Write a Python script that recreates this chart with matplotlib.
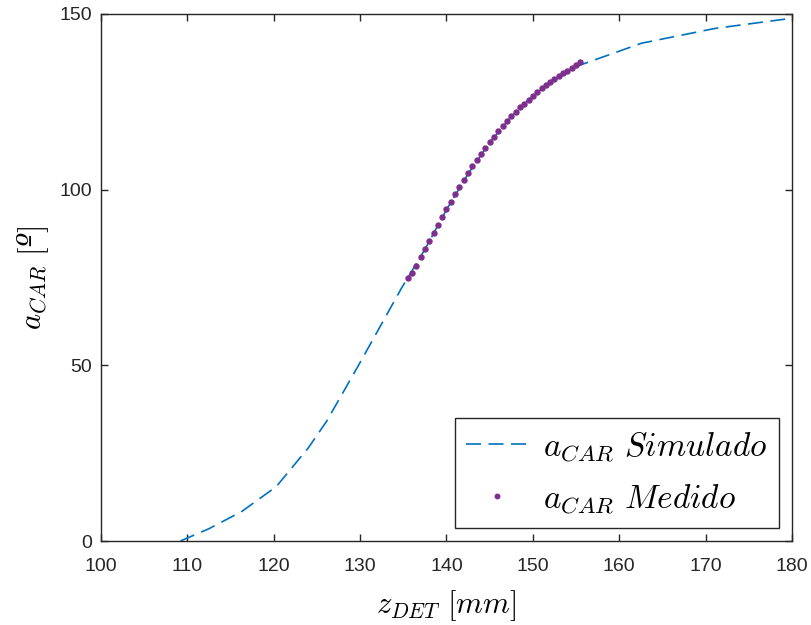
import numpy as np
import matplotlib
matplotlib.use('Agg')
import matplotlib.pyplot as plt

plt.rcParams['font.family'] = ['Liberation Sans', 'DejaVu Sans']
plt.rcParams['mathtext.fontset'] = 'cm'

# curva simulada
z_sim = [109.2, 112.5, 116.3, 120.3, 124.0, 126.1, 129.7, 134.8, 137.5, 140.0,
         142.5, 145.0, 147.5, 150.0, 152.5, 155.4, 162.6, 171.1, 180.0]
a_sim = [0.0, 3.5, 8.4, 15.5, 26.5, 34.0, 49.5, 72.0, 83.0, 94.3,
         104.5, 113.4, 120.8, 126.7, 131.5, 135.4, 141.7, 145.9, 148.8]

# medidas
z_med = [135.5, 136.0, 136.5, 137.0, 137.5, 138.0, 138.5, 139.0, 139.5, 140.0,
         140.5, 141.0, 141.5, 142.0, 142.5, 143.0, 143.5, 144.0, 144.5, 145.0,
         145.5, 146.0, 146.5, 147.0, 147.5, 148.0, 148.5, 149.0, 149.5, 150.0,
         150.5, 151.0, 151.5, 152.0, 152.5, 153.0, 153.5, 154.0, 154.5, 155.0,
         155.5]
a_med = [74.8, 76.2, 78.4, 80.8, 83.0, 85.3, 87.6, 90.0, 92.3, 94.5,
         96.6, 98.8, 100.8, 102.8, 104.7, 106.7, 108.4, 110.1, 112.0, 113.5,
         115.1, 116.7, 118.2, 119.6, 120.9, 122.2, 123.4, 124.5, 125.6, 126.8,
         127.8, 128.8, 129.7, 130.7, 131.5, 132.4, 133.1, 133.9, 134.6, 135.4,
         136.2]

fig = plt.figure(figsize=(8.11, 6.25), dpi=100)
ax = fig.add_axes([0.1245, 0.1344, 0.8521, 0.8432])

ax.plot(z_sim, a_sim, color='#0072BD', linewidth=1.2, dashes=(9, 4.5),
        label=r'$a_{CAR}\ Simulado$')
ax.plot(z_med, a_med, linestyle='none', marker='o', markersize=3.6,
        color='#7E2F8E', label=r'$a_{CAR}\ Medido$')

ax.set_xlim(100, 180)
ax.set_ylim(0, 150)
ax.set_xticks(range(100, 181, 10))
ax.set_yticks([0, 50, 100, 150])
ax.tick_params(direction='in', length=5, width=1, colors='#262626',
               labelsize=14, top=True, right=True)
ax.tick_params(axis='x', pad=12.5)
ax.tick_params(axis='y', pad=6.5)
for s in ax.spines.values():
    s.set_color('#262626')
    s.set_linewidth(1)

ax.set_xlabel(r'$z_{DET}\ [mm]$', fontsize=22, color='black', labelpad=9)
ax.set_ylabel(r'$a_{CAR}\ [$º$]$', fontsize=22, color='black', labelpad=6,
              family='DejaVu Serif', style='italic')

leg = ax.legend(loc='lower right', fontsize=24, fancybox=False, framealpha=1,
                edgecolor='#262626', handlelength=1.85, handletextpad=0.45,
                labelspacing=0.55, borderaxespad=0.4, borderpad=0.35,
                markerscale=0.9)
leg.get_frame().set_linewidth(1)

fig.savefig('out.png', dpi=100)
plt.close(fig)
